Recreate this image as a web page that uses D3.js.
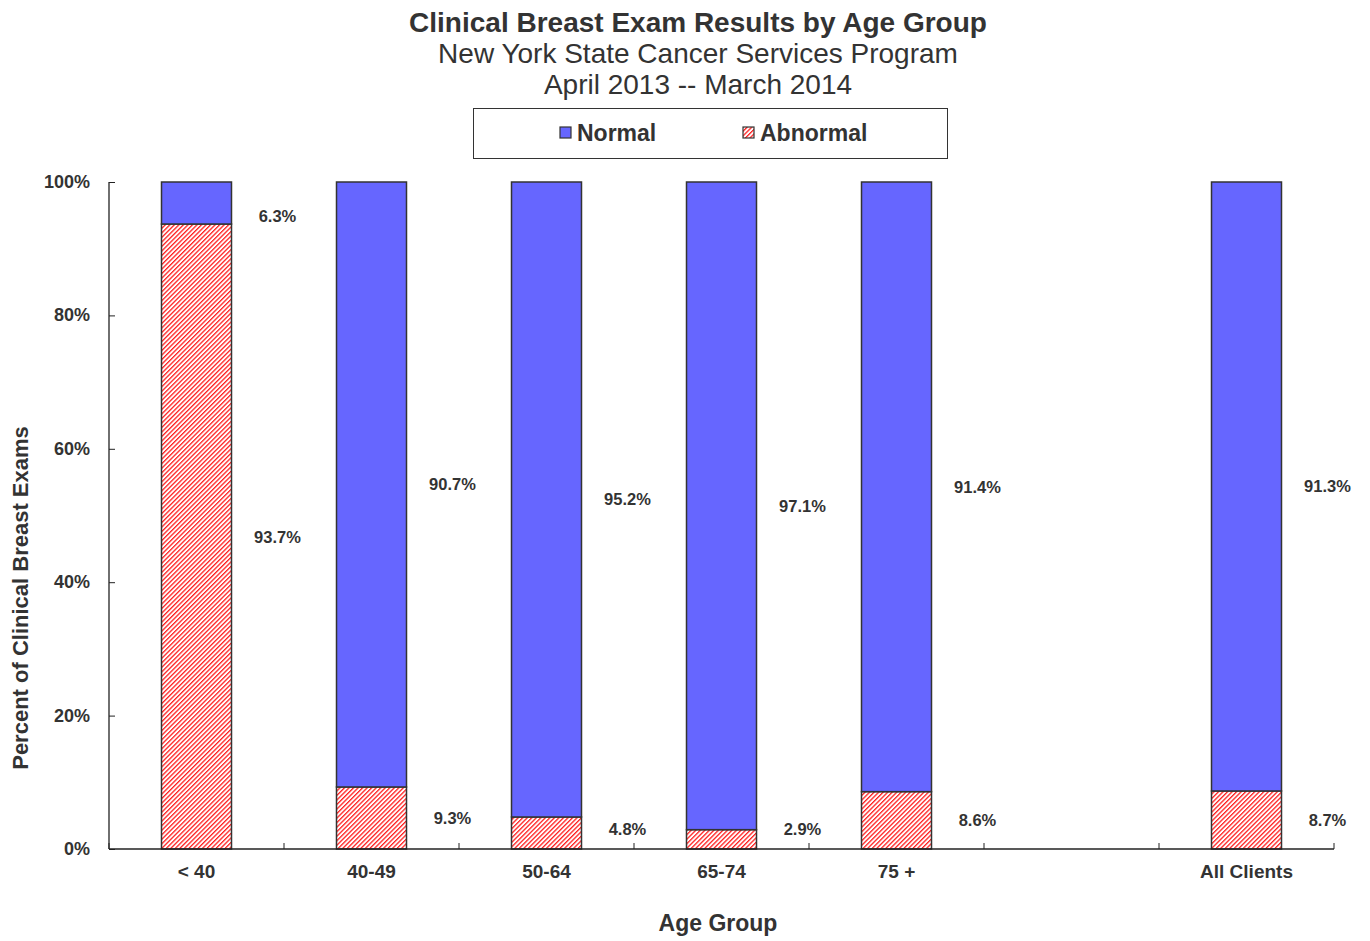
<!DOCTYPE html>
<html>
<head>
<meta charset="utf-8">
<script src="https://cdn.jsdelivr.net/npm/d3@7"></script>
<style>
  body { margin: 0; background: #fff; }
  text { font-family: "Liberation Sans", Arial, sans-serif; fill: #333; }
</style>
</head>
<body>
<script>
// данные графика
var categories = ["< 40", "40-49", "50-64", "65-74", "75 +", "", "All Clients"];
var abnormal = [93.7, 9.3, 4.8, 2.9, 8.6, null, 8.7];
var normal = [6.3, 90.7, 95.2, 97.1, 91.4, null, 91.3];
var yTicks = [0, 20, 40, 60, 80, 100];

var width = 1370, height = 941;
var plotLeft = 109, plotRight = 1334, plotTop = 182, plotBottom = 849;

var svg = d3.select('body').append('svg')
  .attr('width', width)
  .attr('height', height)
  .style('display', 'block');

// штриховка для Abnormal
var defs = svg.append('defs');
var pat = defs.append('pattern')
  .attr('id', 'hatch')
  .attr('patternUnits', 'userSpaceOnUse')
  .attr('width', 3.2).attr('height', 10)
  .attr('patternTransform', 'rotate(45)');
pat.append('rect').attr('width', 3.2).attr('height', 10).attr('fill', '#ffffff');
pat.append('rect').attr('width', 1.3).attr('height', 10).attr('fill', '#ff1f1f');

var x = d3.scaleBand()
  .domain(categories)
  .range([plotLeft, plotRight])
  .paddingInner(0.6)
  .paddingOuter(0.3);

var y = d3.scaleLinear().domain([0, 100]).range([plotBottom, plotTop]);

// заголовки
svg.append('text').attr('x', 698).attr('y', 32).attr('text-anchor', 'middle')
  .style('font-size', '28px').style('font-weight', 'bold')
  .text('Clinical Breast Exam Results by Age Group');
svg.append('text').attr('x', 698).attr('y', 63).attr('text-anchor', 'middle')
  .style('font-size', '28px')
  .text('New York State Cancer Services Program');
svg.append('text').attr('x', 698).attr('y', 94).attr('text-anchor', 'middle')
  .style('font-size', '28px')
  .text('April 2013 -- March 2014');

// легенда
var legend = svg.append('g');
legend.append('rect').attr('x', 473.5).attr('y', 108.5).attr('width', 474).attr('height', 50)
  .attr('fill', '#fff').attr('stroke', '#333').attr('stroke-width', 1);
legend.append('rect').attr('x', 560).attr('y', 127).attr('width', 11).attr('height', 11)
  .attr('fill', '#6666ff').attr('stroke', '#333').attr('stroke-width', 1.2);
legend.append('text').attr('x', 577).attr('y', 141).style('font-size', '23px').style('font-weight', 'bold')
  .text('Normal');
legend.append('rect').attr('x', 743).attr('y', 127).attr('width', 11).attr('height', 11)
  .attr('fill', 'url(#hatch)').attr('stroke', '#333').attr('stroke-width', 1.2);
legend.append('text').attr('x', 760).attr('y', 141).style('font-size', '23px').style('font-weight', 'bold')
  .text('Abnormal');

// ось Y
var yAxis = svg.append('g').attr('transform', 'translate(' + plotLeft + ',0)')
  .call(d3.axisRight(y).tickValues(yTicks).tickSize(6).tickFormat(''));
yAxis.select('.domain').attr('stroke', '#222').attr('stroke-width', 1.3).attr('d', 'M0,' + plotTop + 'V' + plotBottom);
yAxis.selectAll('.tick line').attr('stroke', '#222');
svg.selectAll('.ylab').data(yTicks).enter().append('text')
  .attr('x', 90).attr('y', function(d) { return y(d) + 6; })
  .attr('text-anchor', 'end')
  .style('font-size', '18px').style('font-weight', 'bold')
  .text(function(d) { return d + '%'; });

// столбцы
var idx = d3.range(categories.length).filter(function(i) { return abnormal[i] != null; });
var bars = svg.selectAll('.bar').data(idx).enter().append('g');
bars.append('rect')
  .attr('x', function(i) { return x(categories[i]); })
  .attr('width', x.bandwidth())
  .attr('y', function(i) { return y(abnormal[i]); })
  .attr('height', function(i) { return y(0) - y(abnormal[i]); })
  .attr('fill', 'url(#hatch)').attr('stroke', '#333').attr('stroke-width', 1.5);
bars.append('rect')
  .attr('x', function(i) { return x(categories[i]); })
  .attr('width', x.bandwidth())
  .attr('y', function(i) { return y(abnormal[i] + normal[i]); })
  .attr('height', function(i) { return y(abnormal[i]) - y(abnormal[i] + normal[i]); })
  .attr('fill', '#6666ff').attr('stroke', '#333').attr('stroke-width', 1.5);

// подписи значений
bars.append('text')
  .attr('x', function(i) { return x(categories[i]) + x.bandwidth() + 46; })
  .attr('y', function(i) { return Math.min(y(abnormal[i] / 2), plotBottom - 20) + 6; })
  .attr('text-anchor', 'middle')
  .style('font-size', '16.5px').style('font-weight', 'bold')
  .text(function(i) { return abnormal[i].toFixed(1) + '%'; });
bars.append('text')
  .attr('x', function(i) { return x(categories[i]) + x.bandwidth() + 46; })
  .attr('y', function(i) { return Math.max(y(abnormal[i] + normal[i] / 2), plotTop + 34) + 6; })
  .attr('text-anchor', 'middle')
  .style('font-size', '16.5px').style('font-weight', 'bold')
  .text(function(i) { return normal[i].toFixed(1) + '%'; });

// ось X
svg.append('line').attr('x1', plotLeft).attr('x2', plotRight).attr('y1', plotBottom).attr('y2', plotBottom)
  .attr('stroke', '#222').attr('stroke-width', 1.3);
svg.selectAll('.xtick').data(d3.range(categories.length + 1)).enter().append('line')
  .attr('x1', function(i) { return plotLeft + i * x.step(); })
  .attr('x2', function(i) { return plotLeft + i * x.step(); })
  .attr('y1', plotBottom).attr('y2', plotBottom - 6)
  .attr('stroke', '#222');
svg.selectAll('.xlab').data(categories).enter().append('text')
  .attr('x', function(d) { return x(d) + x.bandwidth() / 2; })
  .attr('y', 878)
  .attr('text-anchor', 'middle')
  .style('font-size', '19px').style('font-weight', 'bold')
  .text(function(d) { return d; });

// подписи осей
svg.append('text').attr('x', 718).attr('y', 931).attr('text-anchor', 'middle')
  .style('font-size', '23px').style('font-weight', 'bold')
  .text('Age Group');
svg.append('text').attr('transform', 'translate(28,598) rotate(-90)').attr('text-anchor', 'middle')
  .style('font-size', '22px').style('font-weight', 'bold')
  .text('Percent of Clinical Breast Exams');
</script>
</body>
</html>
